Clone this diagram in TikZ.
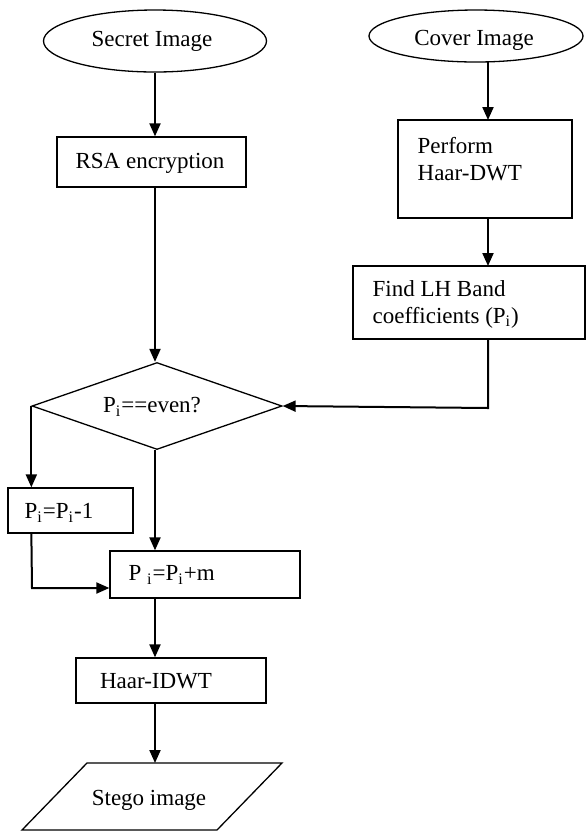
\documentclass[tikz,border=0pt]{standalone}
\usepackage{fontspec}
\setmainfont{Liberation Serif}
\usetikzlibrary{arrows.meta,shapes.geometric}
\begin{document}
\begin{tikzpicture}[x=0.5pt,y=-0.5pt,
  line width=0.65pt,
  every node/.style={font=\fontsize{11.5}{13.5}\selectfont},
  arr/.style={line width=1pt,-{Triangle[length=6.5pt,width=5.5pt]}},
  oval/.style={draw,ellipse,inner sep=0pt},
  boxx/.style={draw,rectangle,inner sep=0pt},
  txt/.style={inner sep=0pt},
  ltxt/.style={inner sep=0pt,anchor=west,align=left}]
\useasboundingbox (0,0) rectangle (586,832);
% shapes
\node[oval,minimum width=111.5pt,minimum height=31pt] (secret) at (155,41) {};
\node[txt] (secrett) at (152,41) {Secret Image};
\node[oval,minimum width=107pt,minimum height=26pt] (cover) at (476,36) {};
\node[txt] (covert) at (474,40) {Cover Image};
\node[boxx,minimum width=94.5pt,minimum height=25pt] (rsa) at (151.5,162) {};
\node[txt] (rsat) at (150,163) {RSA encryption};
\node[boxx,minimum width=87pt,minimum height=49pt] (perform) at (485,169) {};
\node[ltxt] (performt) at (417,159) {Perform\\Haar-DWT};
\node[boxx,minimum width=116pt,minimum height=36.5pt] (find) at (469,302.5) {};
\node[ltxt] (findt) at (372,304) {Find LH Band\\coefficients (P\textsubscript{i})};
\node[draw,diamond,inner sep=0pt,minimum width=125pt,minimum height=43.5pt] (dec) at (157,406) {};
\node[txt] (dect) at (152,407) {P\textsubscript{i}==even?};
\node[boxx,minimum width=62.5pt,minimum height=22.5pt] (pm1) at (70.5,510.5) {};
\node[txt] (pm1t) at (59,513) {P\textsubscript{i}=P\textsubscript{i}-1};
\node[boxx,minimum width=95pt,minimum height=23.5pt] (pm) at (205,574.5) {};
\node[ltxt] (pmt) at (128,575) {P \textsubscript{i}=P\textsubscript{i}+m};
\node[boxx,minimum width=95pt,minimum height=22.5pt] (idwt) at (171,680.5) {};
\node[txt] (idwtt) at (156,681) {Haar-IDWT};
\coordinate (stegotop) at (155,763);
\draw (87,763) -- (282,763) -- (217,830) -- (22,830) -- cycle;
\node[txt] (stegot) at (149,800) {Stego image};
% connectors
\draw[arr] (secret.south) -- (secret.south |- rsa.north);
\draw[arr] (secret.south |- rsa.south) -- (secret.south |- dec.north);
\draw[arr] (488,62) -- (488,120);
\draw[arr] (488,218) -- (488,266);
\draw[arr] (488,339) -- (488,408) -- (dec.east);
\draw[arr] (dec.west) -- (dec.west |- pm1.north);
\draw[arr] (secret.south |- dec.south) -- (secret.south |- pm.north);
\draw[arr] (dec.west |- pm1.south) -- (32,588) -- (pm.west |- 0,588);
\draw[arr] (secret.south |- pm.south) -- (secret.south |- idwt.north);
\draw[arr] (secret.south |- idwt.south) -- (stegotop);
\end{tikzpicture}
\end{document}
